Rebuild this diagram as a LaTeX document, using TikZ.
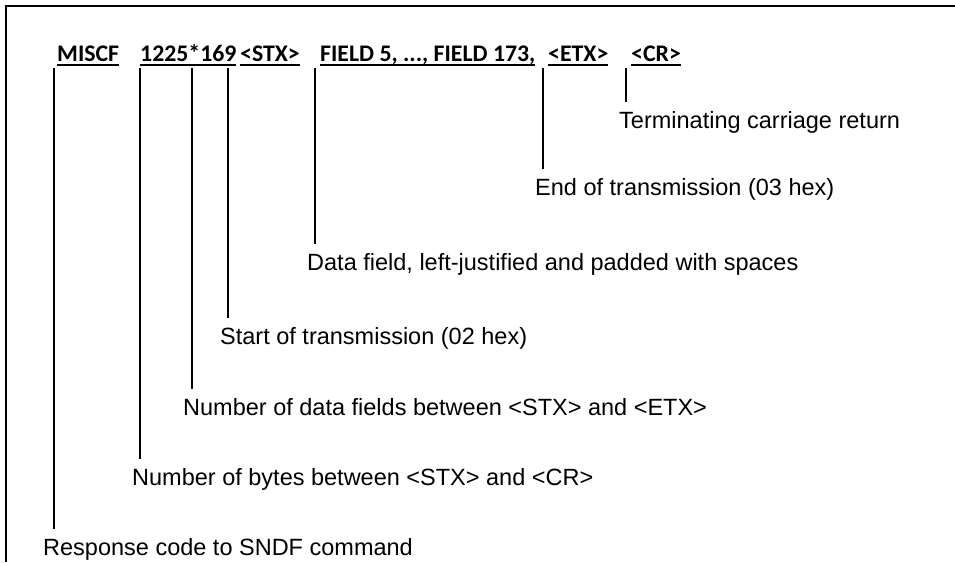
\documentclass[tikz,border=0pt]{standalone}
\usepackage{fontspec}
\setmainfont{Liberation Sans}
\newfontfamily\codefont{Carlito}
\usetikzlibrary{positioning}

% underline at a fixed depth, commas and all
\newcommand{\ulbox}[1]{\setbox0\hbox{#1}\rlap{\rule[-4.5pt]{\wd0}{1.6pt}}\box0}

\begin{document}
\begin{tikzpicture}[x=1pt, y=-1pt,
  code/.style={inner sep=0, anchor=base west, font=\codefont\bfseries\fontsize{23.8}{26}\selectfont},
  note/.style={inner sep=0, anchor=base west, text height=25.5pt, font=\fontsize{23.5}{27}\selectfont},
  lead/.style={line width=1.9pt}]
  \useasboundingbox (0,0) rectangle (955,562);
  % open frame, top and left side only
  \draw[line width=2pt] (6,562) -- (6,6) -- (955,6);
  % the response string
  \node[code] (misc)   at (57,61)  {\ulbox{MISCF}};
  \node[code] (count)  at (140,61) {\ulbox{1225*169}};
  \node[code] (stx)    at (240,61) {\ulbox{<STX>}};
  \node[code] (fields) at (320,61) {\ulbox{FIELD 5, ..., FIELD 173,}};
  \node[code] (etx)    at (548,61) {\ulbox{<ETX>}};
  \node[code] (cr)     at (631,61) {\ulbox{<CR>}};
  % where the leaders start
  \coordinate (tmisc)  at (54,68);
  \coordinate (tbytes) at (140,68);
  \coordinate (tnum)   at (192,68);
  \coordinate (tstx)   at (228,68);
  \coordinate (tdata)  at (315,68);
  \coordinate (tetx)   at (543,68);
  \coordinate (tcr)    at (626,68);
  % explanations
  \node[note] (lblcr)    at (619,128) {Terminating carriage return};
  \node[note] (lbletx)   at (535,195) {End of transmission (03 hex)};
  \node[note] (lbldata)  at (307,270) {Data field, left-justified and padded with spaces};
  \node[note] (lblstx)   at (220,344) {Start of transmission (02 hex)};
  \node[note] (lblnum)   at (183,415) {Number of data fields between <STX> and <ETX>};
  \node[note] (lblbytes) at (132,485) {Number of bytes between <STX> and <CR>};
  \node[note] (lblresp)  at (43,555)  {Response code to SNDF command};
  \foreach \t/\l in {tcr/lblcr, tetx/lbletx, tdata/lbldata, tstx/lblstx,
                     tnum/lblnum, tbytes/lblbytes, tmisc/lblresp}
    \draw[lead] (\t) -- (\t |- \l.north);
\end{tikzpicture}
\end{document}
